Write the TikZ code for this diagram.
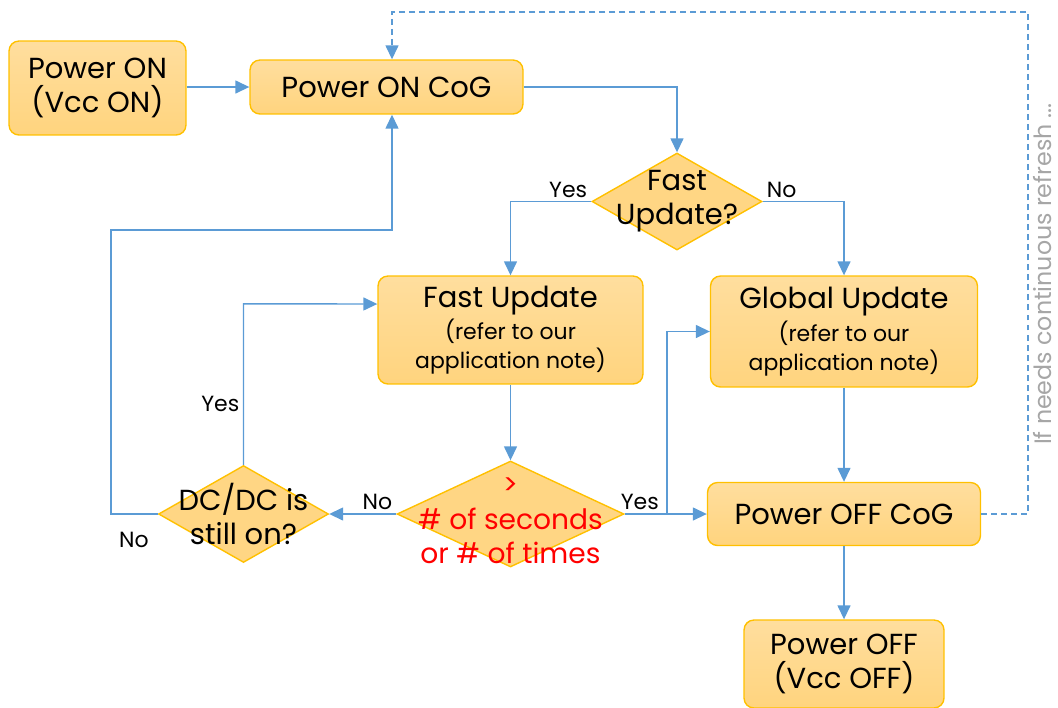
\documentclass[tikz,border=0pt]{standalone}
\usepackage{fontspec}
\setmainfont{Poppins}
\usetikzlibrary{shapes.geometric,arrows.meta}

\definecolor{boxtop}{HTML}{FFDE9E}
\definecolor{boxbot}{HTML}{FFD47E}
\definecolor{boxline}{HTML}{FFC000}
\definecolor{flowline}{HTML}{5B9BD5}
\definecolor{notegray}{HTML}{A6A6A6}

\newcommand{\bigfont}{\fontsize{16.5}{19.5}\selectfont}
\newcommand{\smallfont}{\fontsize{12.5}{16}\selectfont}

\tikzset{
  box/.style={draw=boxline, line width=0.8pt, top color=boxtop, bottom color=boxbot,
    rounded corners=0.2cm, inner sep=0pt, align=center, font=\bigfont},
  decision/.style={diamond, draw=boxline, line width=0.8pt, fill=boxbot!80!boxtop,
    inner sep=0pt, minimum width=3.4cm, minimum height=1.94cm},
  dtext/.style={align=center, font=\bigfont},
  lbl/.style={font=\smallfont, inner sep=2pt},
  flow/.style={draw=flowline, line width=0.8pt, -{Triangle[length=0.28cm,width=0.26cm]}},
}

\begin{document}
\begin{tikzpicture}[x=0.02cm,y=-0.02cm]
\useasboundingbox (0,0) rectangle (1058,707);

% boxes
\node[box, minimum width=3.54cm, minimum height=1.88cm] (pon) at (97.5,88) {Power ON\\(Vcc ON)};
\node[box, minimum width=5.46cm, minimum height=1.08cm] (poncog) at (386.5,87) {Power ON CoG};
\node[box, minimum width=5.3cm, minimum height=2.16cm] (fastupd) at (510.5,330)
  {Fast Update\\[-1pt] \smallfont (refer to our\\[-3pt] \smallfont application note)};
\node[box, minimum width=5.34cm, minimum height=2.22cm] (global) at (844,331.5)
  {Global Update\\[-1pt] \smallfont (refer to our\\[-3pt] \smallfont application note)};
\node[box, minimum width=5.46cm, minimum height=1.26cm] (poffcog) at (844,514) {Power OFF CoG};
\node[box, minimum width=4.0cm, minimum height=1.76cm] (poff) at (844,664) {Power OFF\\(Vcc OFF)};

% decisions
\node[decision, label={[dtext]center:{Fast\\Update?}}] (fast) at (677,201.5) {};
\node[decision, minimum width=4.54cm, minimum height=2.12cm,
  label={[dtext, text=red, font=\fontsize{16}{19.5}\selectfont, yshift=-0.14cm]center:{>\\\# of seconds\\or \# of times}}] (secs) at (510.5,514) {};
\node[decision, label={[dtext]center:{DC/DC is\\still on?}}] (dcdc) at (243.5,514) {};

\coordinate (yesjoin) at (667,514);
\coordinate (noleft) at (111,230);
\coordinate (dashcorner) at (1028,12);

% connectors
\draw[flow] (pon.east |- poncog) -- (poncog);
\draw[flow] (poncog.east) -| (fast.north);
\draw[flow] (fast.west) node[lbl, anchor=south east] {Yes} -| (fastupd.north);
\draw[flow] (fast.east) node[lbl, anchor=south west] {No} -| (global.north);
\draw[flow] (fastupd) -- (secs);
\draw[flow] (secs.east) -- (poffcog.west);
\draw[flow] (yesjoin) node[lbl, anchor=south east, xshift=-0.08cm] {Yes} |- (global.west);
\draw[flow] (secs.west) node[lbl, anchor=south east] {No} -- (dcdc.east);
\draw[flow] (dcdc.north) -- node[lbl, pos=0.38, anchor=east] {Yes} ++(0,-161) -- ([yshift=0.52cm]fastupd.west);
\draw[flow] (dcdc.west) node[lbl, anchor=north east, xshift=-0.1cm, yshift=-0.28cm] {No}
  -| (noleft) -| ([xshift=0.11cm]poncog.south);
\draw[flow] (global) -- (poffcog);
\draw[flow] (poffcog) -- (poff);
\draw[flow, dash pattern=on 3.4pt off 2.3pt] (poffcog.east) -| (dashcorner) -| ([xshift=0.11cm]poncog.north);

\node[rotate=90, text=notegray, font=\fontsize{13.5}{16}\selectfont] (refresh) at (1043,274) {If needs continuous refresh ...};
\end{tikzpicture}
\end{document}
